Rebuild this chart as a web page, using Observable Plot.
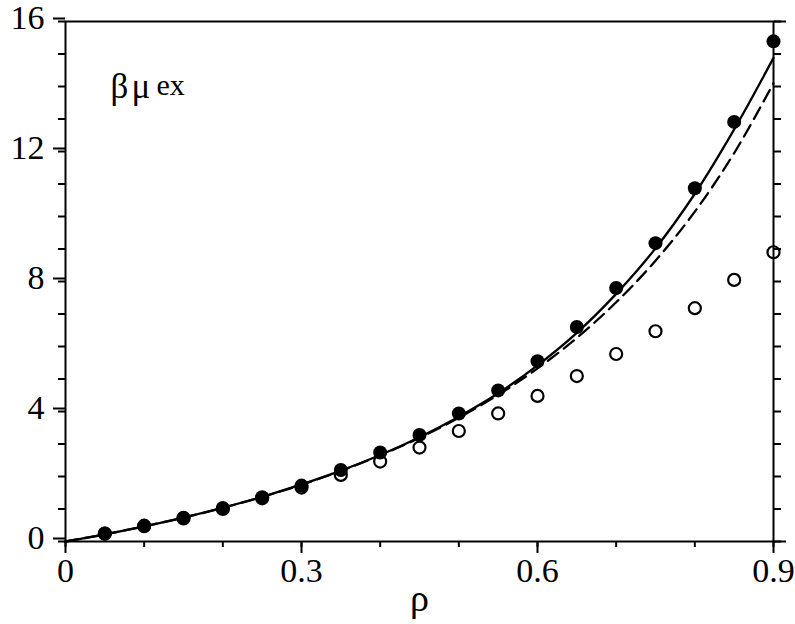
<!DOCTYPE html>
<html>
<head>
<meta charset="utf-8">
<script src="https://cdn.jsdelivr.net/npm/d3@7"></script>
<script src="https://cdn.jsdelivr.net/npm/@observablehq/plot@0.6"></script>
<style>
  html, body { margin: 0; padding: 0; background: #fff; }
  svg { display: block; }
</style>
</head>
<body>
<div id="chart"></div>
<script>
// Simulation points (x = density rho)
const rhoPts = [0.05,0.1,0.15,0.2,0.25,0.3,0.35,0.4,0.45,0.5,0.55,0.6,0.65,0.7,0.75,0.8,0.85,0.9];
const filledVals = [0.25,0.49,0.73,1.03,1.36,1.72,2.2,2.74,3.28,3.94,4.65,5.55,6.6,7.8,9.18,10.87,12.91,15.39];
const openVals   = [0.24,0.47,0.71,1.0,1.33,1.66,2.05,2.46,2.89,3.40,3.94,4.48,5.09,5.77,6.47,7.18,8.05,8.9];

// Theory curves
const rhoCurve = [0,0.05,0.1,0.15,0.2,0.25,0.3,0.35,0.4,0.45,0.5,0.55,0.6,0.65,0.7,0.75,0.8,0.85,0.9];
const solidVals  = [0,0.22,0.465,0.735,1.04,1.375,1.755,2.18,2.66,3.21,3.84,4.56,5.42,6.42,7.62,9.02,10.7,12.68,14.88];
const dashedVals = [0,0.22,0.464,0.734,1.035,1.37,1.747,2.17,2.648,3.19,3.807,4.513,5.325,6.265,7.36,8.64,10.15,11.95,14.1];

// Ticks
const xMajor = [0,0.3,0.6,0.9];
const xMinor = [0,0.1,0.2,0.3,0.4,0.5,0.6,0.7,0.8,0.9];
const yMajor = [0,4,8,12,16];
const yMinor = [0,1,2,3,4,5,6,7,8,9,10,11,12,13,14,15,16];
const yEnds = [0,16];

const pts = rhoPts.map((r,i) => ({rho: r, filled: filledVals[i], open: openVals[i]}));
const curve = rhoCurve.map((r,i) => ({rho: r, solid: solidVals[i], dashed: dashedVals[i]}));

const font = "'Liberation Serif', 'Times New Roman', serif";

const chart = Plot.plot({
  width: 795,
  height: 624,
  marginLeft: 65,
  marginRight: 22,
  marginTop: 21,
  marginBottom: 83,
  style: {fontFamily: font, background: "white", color: "black"},
  x: {domain: [0, 0.9], label: null},
  y: {domain: [0, 16], label: null},
  marks: [
    Plot.line(curve, {x: "rho", y: "dashed", stroke: "black", strokeWidth: 2.3, strokeDasharray: "13,7", curve: "catmull-rom"}),
    Plot.line(curve, {x: "rho", y: "solid", stroke: "black", strokeWidth: 2.3, curve: "catmull-rom"}),
    Plot.dot(pts, {x: "rho", y: "open", r: 6, fill: "white", stroke: "black", strokeWidth: 2.2}),
    Plot.dot(pts, {x: "rho", y: "filled", r: 7, fill: "black", stroke: "none"}),
    // axes
    Plot.axisY(yMinor, {anchor: "left", tickSize: 7, text: null, strokeWidth: 2, label: null}),
    Plot.axisY(yMajor, {anchor: "left", tickSize: 12, tickPadding: 9, fontSize: 34, strokeWidth: 2, dy: -3, label: null, tickFormat: d => String(d)}),
    Plot.axisY(yMinor, {anchor: "right", tickSize: 7, text: null, strokeWidth: 2, label: null}),
    Plot.axisY(yEnds, {anchor: "right", tickSize: 12, text: null, strokeWidth: 2, label: null}),
    Plot.axisX(xMinor, {anchor: "bottom", tickSize: 6, text: null, strokeWidth: 2, label: null}),
    Plot.axisX(xMajor, {anchor: "bottom", tickSize: 12, tickPadding: 4, fontSize: 34, strokeWidth: 2, label: null, tickFormat: d => String(d)}),
    Plot.frame({stroke: "black", strokeWidth: 2}),
    // labels
    Plot.text(["ρ"], {frameAnchor: "bottom", lineAnchor: "middle", dy: 57, fontSize: 38, fill: "black"}),
    Plot.text(["β"], {frameAnchor: "top-left", textAnchor: "start", lineAnchor: "middle", dx: 45, dy: 65, fontSize: 35, fill: "black"}),
    Plot.text(["μ"], {frameAnchor: "top-left", textAnchor: "start", lineAnchor: "middle", dx: 66, dy: 65, fontSize: 35, fill: "black"}),
    Plot.text(["ex"], {frameAnchor: "top-left", textAnchor: "start", lineAnchor: "middle", dx: 91, dy: 64, fontSize: 30, fill: "black"})
  ]
});
document.getElementById("chart").appendChild(chart);
</script>
</body>
</html>
